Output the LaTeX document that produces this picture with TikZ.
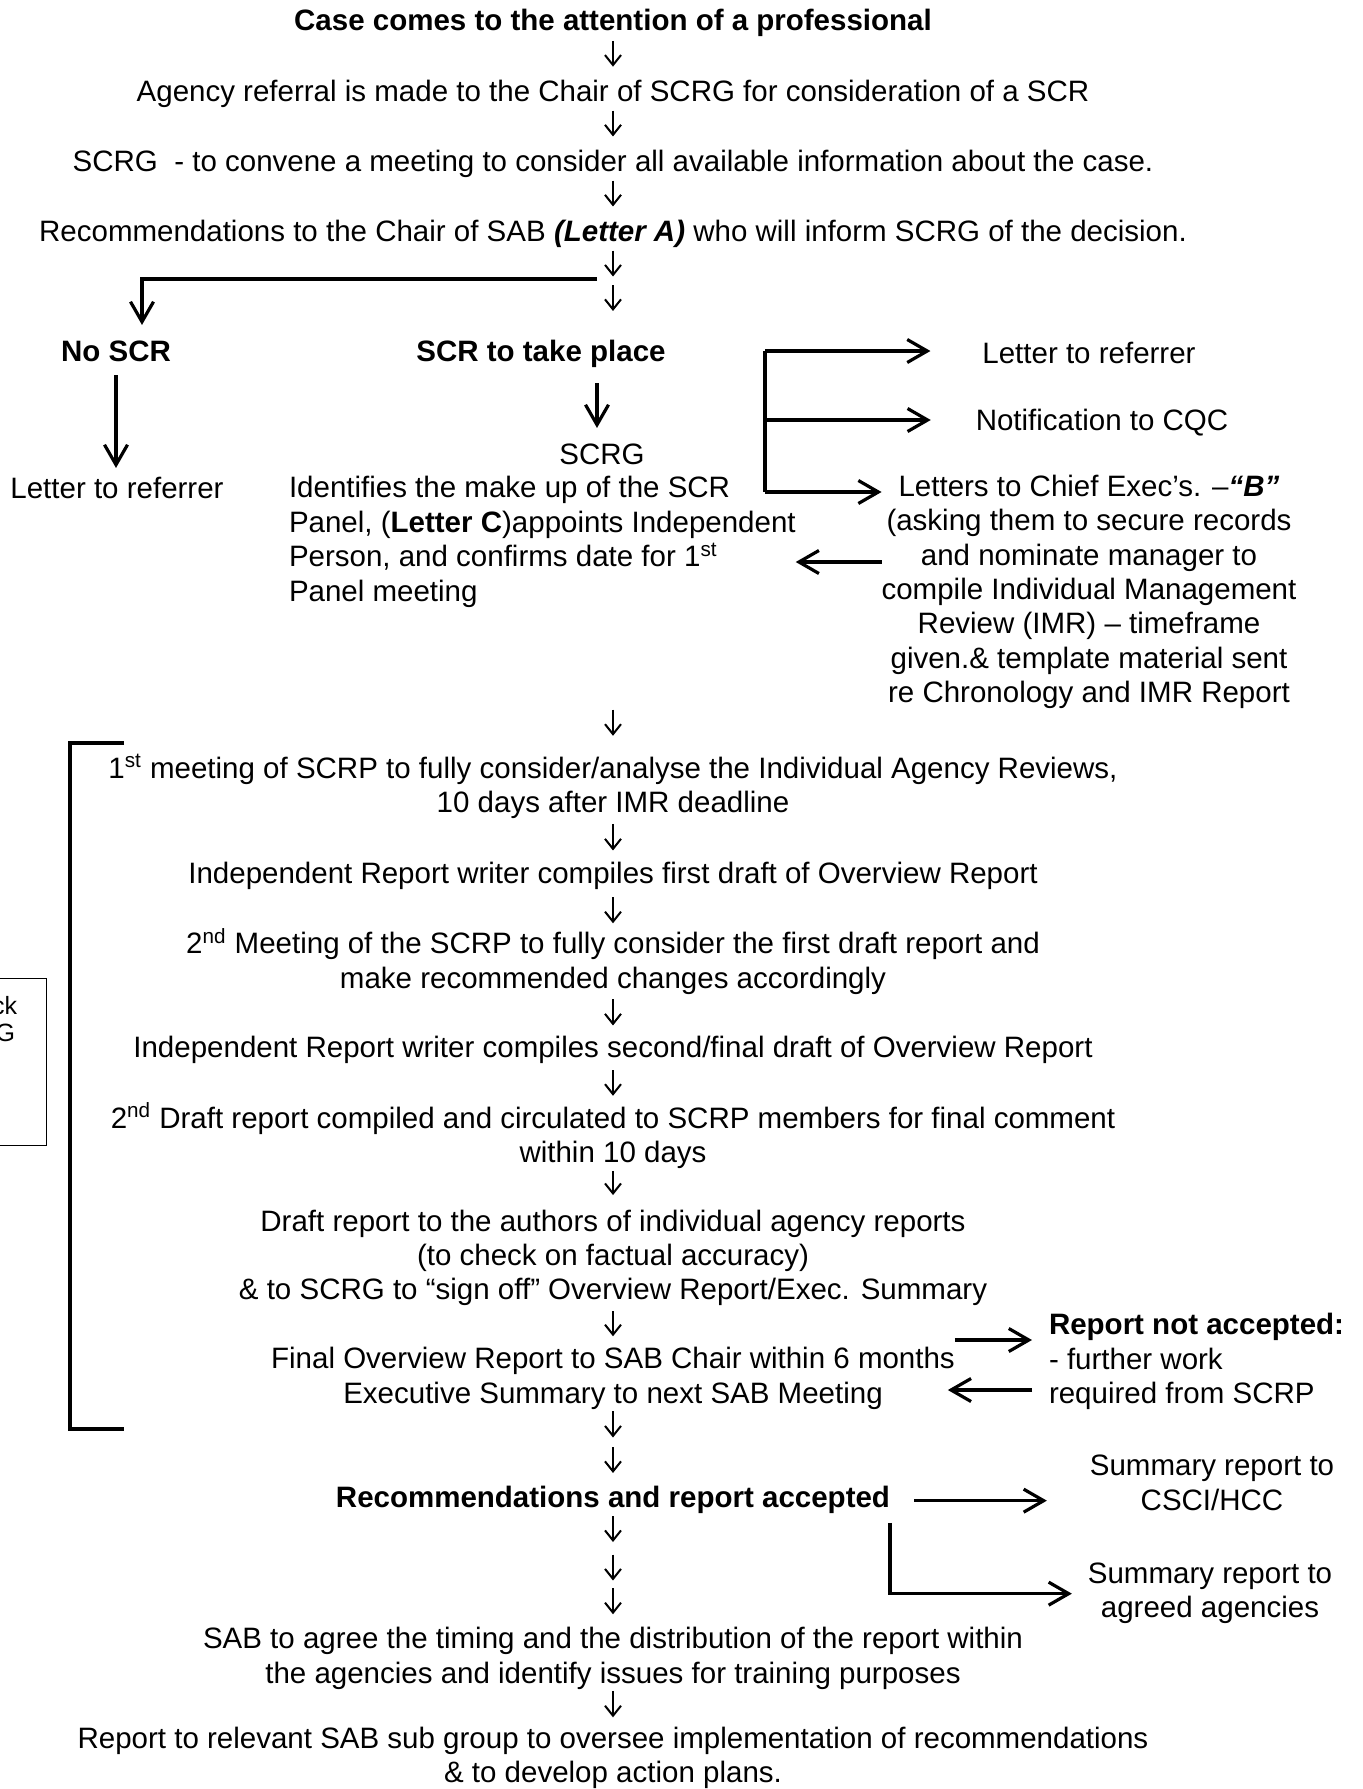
\documentclass[tikz,border=0pt]{standalone}
\usepackage{fontspec}
\setmainfont{Liberation Sans}
\usetikzlibrary{arrows.meta}
\tikzset{
  txt/.style={inner sep=0pt, outer sep=0pt, font=\fontsize{14.75}{17.2}\selectfont, align=center},
  boxtxt/.style={inner sep=0pt, outer sep=0pt, font=\fontsize{12.5}{14}\selectfont},
  thinarr/.style={line width=1pt, -{Straight Barb[length=5pt,width=8pt]}},
  thickarr/.style={line width=1.6pt, -{Straight Barb[length=10pt,width=11.5pt]}},
  thickline/.style={line width=1.6pt},
  boxline/.style={line width=0.5pt},
}
\begin{document}
\begin{tikzpicture}[x=0.5pt,y=-0.5pt]
\fill[white] (0,0) rectangle (1362,1789);
\useasboundingbox (0,0) rectangle (1362,1789);

% main column
\node[txt] (n1) at (613,23.65) {\strut\bfseries Case comes to the attention of a professional};
\node[txt] (n2) at (613,94.65) {\strut Agency referral is made to the Chair of SCRG for consideration of a SCR};
\node[txt] (n3) at (613,164.65) {\strut SCRG\ \ - to convene a meeting to consider all available information about the case.};
\node[txt] (n4) at (613,234.65) {\strut Recommendations to the Chair of SAB \textbf{\textit{(Letter A)}} who will inform SCRG of the decision.};
\coordinate (split) at (613,281);
\coordinate (brk) at (597,279);
\coordinate (nobend) at (142,279);

\node[txt] (noscr) at (116,354.65) {\strut\bfseries No SCR};
\node[txt] (scr) at (541,354.65) {\strut\bfseries SCR to take place};
\node[txt] (lref) at (117,491.65) {\strut Letter to referrer};
\node[txt] (scrg) at (602,457.65) {\strut SCRG};
\node[txt, align=left, anchor=west] (panel) at (289,542.65) {\strut Identifies the make up of the SCR\\\strut Panel, (\textbf{Letter C})appoints Independent\\\strut Person, and confirms date for 1\smash{\textsuperscript{st}}\\\strut Panel meeting};

% right column
\node[txt] (lref2) at (1089,356.65) {\strut Letter to referrer};
\node[txt] (cqc) at (1102,423.65) {\strut Notification to CQC};
\node[txt] (letters) at (1089,592.65) {\strut Letters to Chief Exec’s. –\textbf{\textit{“B”}}\\\strut (asking them to secure records\\\strut and nominate manager to\\\strut compile Individual Management\\\strut Review (IMR) – timeframe\\\strut given.\& template material sent\\\strut re Chronology and IMR Report};
\coordinate (bk1) at (765,351);
\coordinate (bk2) at (765,420);
\coordinate (bk3) at (765,492);
\coordinate (ly1) at (0,562);

% lower column
\node[txt] (n12) at (613,788.65) {\strut 1\smash{\textsuperscript{st}} meeting of SCRP to fully consider/analyse the Individual Agency Reviews,\\\strut 10 days after IMR deadline};
\node[txt] (n13) at (613,876.65) {\strut Independent Report writer compiles first draft of Overview Report};
\node[txt] (n14) at (613,964.15) {\strut 2\smash{\textsuperscript{nd}} Meeting of the SCRP to fully consider the first draft report and\\\strut make recommended changes accordingly};
\node[txt] (n15) at (613,1050.65) {\strut Independent Report writer compiles second/final draft of Overview Report};
\node[txt] (n16) at (613,1138.65) {\strut 2\smash{\textsuperscript{nd}} Draft report compiled and circulated to SCRP members for final comment\\\strut within 10 days};
\node[txt] (n17) at (613,1258.65) {\strut Draft report to the authors of individual agency reports\\\strut (to check on factual accuracy)\\\strut \& to SCRG to “sign off” Overview Report/Exec. Summary};
\node[txt] (n18) at (613,1379.15) {\strut Final Overview Report to SAB Chair within 6 months\\\strut Executive Summary to next SAB Meeting};
\node[txt, align=left, anchor=west] (n19) at (1049,1362.15) {\strut\textbf{Report not accepted:}\\\strut - further work\\\strut required from SCRP};
\coordinate (ly2) at (0,1340);
\coordinate (ly3) at (0,1390);
\coordinate (m1) at (613,1442);
\node[txt] (n20) at (613,1500.65) {\strut\bfseries Recommendations and report accepted};
\node[txt] (n21) at (1212,1486.15) {\strut Summary report to\\\strut CSCI/HCC};
\node[txt] (n22) at (1210,1593.65) {\strut Summary report to\\\strut agreed agencies};
\coordinate (m2) at (613,1548);
\coordinate (m3) at (613,1584);
\node[txt] (n23) at (613,1659.15) {\strut SAB to agree the timing and the distribution of the report within\\\strut the agencies and identify issues for training purposes};
\node[txt] (n24) at (613,1758.5) {\strut Report to relevant SAB sub group to oversee implementation of recommendations\\\strut \& to develop action plans.};

% partially visible box at left edge
\draw[boxline] (-10,978) rectangle (46,1145);
\node[boxtxt, anchor=east] (bk) at (17,1006) {ck};
\node[boxtxt, anchor=east] (bg) at (15,1033) {G};

% left bracket
\draw[thickline] (124,743) -- (70,743) -- (70,1429) -- (124,1429);

% thin arrows (main flow)
\draw[thinarr, shorten <=0pt, shorten >=5.4pt] (n1) -- (n2);
\draw[thinarr, shorten <=-0.65pt, shorten >=5.5pt] (n2) -- (n3);
\draw[thinarr, shorten <=-0.65pt, shorten >=5.5pt] (n3) -- (n4);
\draw[thinarr, shorten <=-0.65pt, shorten >=2.25pt] (n4) -- (split);
\draw[thinarr, shorten <=2pt, shorten >=13.25pt] (split) -- (split |- scr.north);
\draw[thinarr, shorten <=49.1pt, shorten >=9.25pt] (n12.north |- panel.south) -- (n12.north);
\draw[thinarr, shorten <=0.35pt, shorten >=4.5pt] (n12) -- (n13);
\draw[thinarr, shorten <=1.6pt, shorten >=3.25pt] (n13) -- (n14);
\draw[thinarr, shorten <=0.35pt, shorten >=4pt] (n14) -- (n15);
\draw[thinarr, shorten <=1.1pt, shorten >=4.25pt] (n15) -- (n16);
\draw[thinarr, shorten <=-1.15pt, shorten >=6pt] (n16) -- (n17);
\draw[thinarr, shorten <=0.6pt, shorten >=4.25pt] (n17) -- (n18);
\draw[thinarr, shorten <=-1.15pt, shorten >=2.25pt] (n18) -- (m1);
\draw[thinarr, shorten <=2.5pt, shorten >=5.25pt] (m1) -- (n20);
\draw[thinarr, shorten <=-0.9pt, shorten >=3pt] (n20) -- (m2);
\draw[thinarr, shorten <=3.25pt, shorten >=1.75pt] (m2) -- (m3);
\draw[thinarr, shorten <=2pt, shorten >=5.25pt] (m3) -- (n23);
\draw[thinarr, shorten <=-1.4pt, shorten >=3.4pt] (n23) -- (n24);

% thick arrows
\draw[thickarr, shorten >=6.25pt] (brk) -- (nobend) -- (nobend |- noscr.north);
\draw[thickarr, shorten <=1.6pt, shorten >=3.25pt] (noscr.south) -- (noscr.south |- lref.north);
\draw[thickarr, shorten <=5.6pt, shorten >=6.25pt] ([xshift=-2.5pt]scrg.north |- scr.south) -- ([xshift=-2.5pt]scrg.north);
\draw[thickline] (bk1) -- (bk3);
\draw[thickarr, shorten >=26pt] (bk1) -- (bk1 -| lref2.west);
\draw[thickarr, shorten >=22.5pt] (bk2) -- (bk2 -| cqc.west);
\draw[thickarr] (bk3) -- (bk3 -| letters.west);
\draw[thickarr] (letters.west |- ly1) -- (panel.east |- ly1);
\draw[thickarr, shorten >=8.5pt] (n18.east |- ly2) -- (n19.west |- ly2);
\draw[thickarr, shorten <=8.5pt, shorten >=-3.5pt] (n19.west |- ly3) -- (n18.east |- ly3);
\draw[thickarr, shorten <=12pt, shorten >=21.5pt] (n20.east) -- (n20.east -| n21.west);
\draw[thickarr, shorten <=2.5pt, shorten >=8pt] (n20.south east) |- (n22.west);
\end{tikzpicture}
\end{document}
